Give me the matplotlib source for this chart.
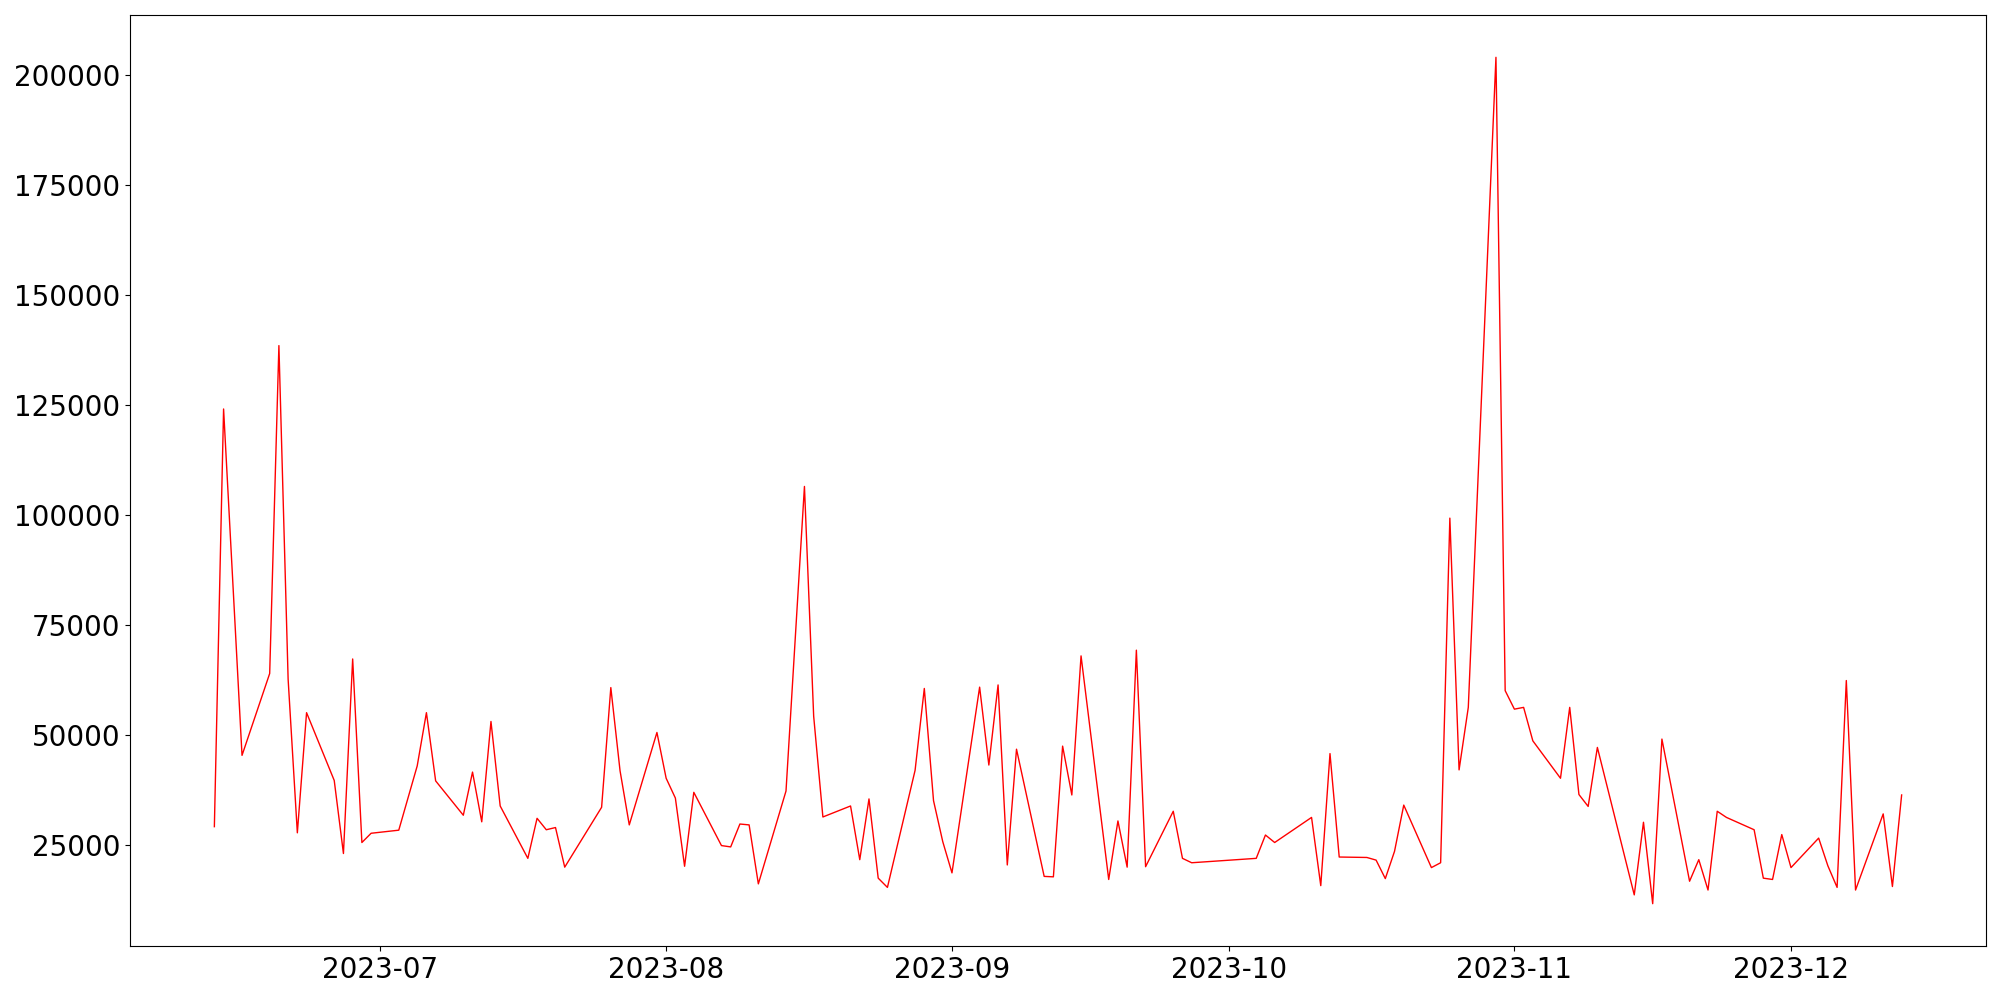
import matplotlib

matplotlib.use("Agg")
import matplotlib.pyplot as plt
import pandas as pd

# trading days (gaps are weekends / holidays)
DATES = [
    "2023-06-13", "2023-06-14", "2023-06-16", "2023-06-19", "2023-06-20",
    "2023-06-21", "2023-06-22", "2023-06-23", "2023-06-26", "2023-06-27",
    "2023-06-28", "2023-06-29", "2023-06-30", "2023-07-03", "2023-07-05",
    "2023-07-06", "2023-07-07", "2023-07-10", "2023-07-11", "2023-07-12",
    "2023-07-13", "2023-07-14", "2023-07-17", "2023-07-18", "2023-07-19",
    "2023-07-20", "2023-07-21", "2023-07-25", "2023-07-26", "2023-07-27",
    "2023-07-28", "2023-07-31", "2023-08-01", "2023-08-02", "2023-08-03",
    "2023-08-04", "2023-08-07", "2023-08-08", "2023-08-09", "2023-08-10",
    "2023-08-11", "2023-08-14", "2023-08-16", "2023-08-17", "2023-08-18",
    "2023-08-21", "2023-08-22", "2023-08-23", "2023-08-24", "2023-08-25",
    "2023-08-28", "2023-08-29", "2023-08-30", "2023-08-31", "2023-09-01",
    "2023-09-04", "2023-09-05", "2023-09-06", "2023-09-07", "2023-09-08",
    "2023-09-11", "2023-09-12", "2023-09-13", "2023-09-14", "2023-09-15",
    "2023-09-18", "2023-09-19", "2023-09-20", "2023-09-21", "2023-09-22",
    "2023-09-25", "2023-09-26", "2023-09-27", "2023-10-04", "2023-10-05",
    "2023-10-06", "2023-10-10", "2023-10-11", "2023-10-12", "2023-10-13",
    "2023-10-16", "2023-10-17", "2023-10-18", "2023-10-19", "2023-10-20",
    "2023-10-23", "2023-10-24", "2023-10-25", "2023-10-26", "2023-10-27",
    "2023-10-30", "2023-10-31", "2023-11-01", "2023-11-02", "2023-11-03",
    "2023-11-06", "2023-11-07", "2023-11-08", "2023-11-09", "2023-11-10",
    "2023-11-14", "2023-11-15", "2023-11-16", "2023-11-17", "2023-11-20",
    "2023-11-21", "2023-11-22", "2023-11-23", "2023-11-24", "2023-11-27",
    "2023-11-28", "2023-11-29", "2023-11-30", "2023-12-01", "2023-12-04",
    "2023-12-05", "2023-12-06", "2023-12-07", "2023-12-08", "2023-12-11",
    "2023-12-12", "2023-12-13",
]

VALUES = [
    29200, 124100, 45400, 64000, 138500,
    62700, 27800, 55100, 39700, 23100,
    67300, 25600, 27700, 28400, 43000,
    55100, 39600, 31800, 41600, 30300,
    53100, 33900, 22000, 31100, 28500,
    29000, 20000, 33600, 60800, 41900,
    29600, 50600, 40200, 35700, 20200,
    37000, 24900, 24600, 29800, 29600,
    16200, 37300, 106500, 54300, 31400,
    33900, 21700, 35500, 17500, 15400,
    42000, 60600, 35100, 25800, 18700,
    60900, 43200, 61400, 20500, 46800,
    17900, 17800, 47500, 36400, 68000,
    17200, 30500, 20000, 69300, 20100,
    32700, 22000, 21000, 22000, 27300,
    25600, 31300, 15800, 45800, 22300,
    22200, 21600, 17400, 23600, 34100,
    19900, 21000, 99300, 42100, 56300,
    204000, 60100, 55900, 56300, 48700,
    40200, 56300, 36500, 33800, 47200,
    13700, 30200, 11700, 49100, 16800,
    21700, 14800, 32700, 31300, 28500,
    17500, 17200, 27400, 19900, 26600,
    20300, 15400, 62400, 14800, 32100,
    15600, 36400,
]

dates = pd.to_datetime(DATES)

fig, ax = plt.subplots(figsize=(20, 10), dpi=100)
ax.plot(dates, VALUES, color="red", linewidth=1)
ax.tick_params(labelsize=20)
fig.subplots_adjust(left=0.065, right=0.993, bottom=0.054, top=0.985)
fig.savefig("out.png", dpi=100)
